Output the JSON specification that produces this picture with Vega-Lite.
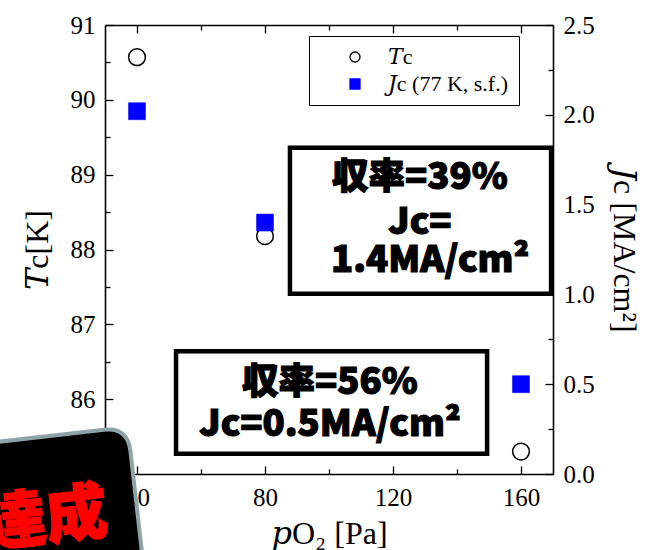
{
  "$schema": "https://vega.github.io/schema/vega-lite/v6.json",
  "autosize": "none",
  "width": 448,
  "height": 449,
  "padding": {"left": 105, "top": 25, "right": 105, "bottom": 76},
  "background": "white",
  "config": {
    "view": {"stroke": null},
    "axis": {
      "grid": false,
      "labelFont": "Liberation Serif",
      "labelFontSize": 25,
      "labelColor": "black",
      "titleFont": "Liberation Serif, DejaVu Serif",
      "titleFontSize": 32,
      "titleFontWeight": "normal",
      "titleColor": "black",
      "domainColor": "black",
      "domainWidth": 1.6,
      "tickColor": "black",
      "tickWidth": 1.3,
      "labelFlush": false,
      "labelOverlap": false
    },
    "legend": {
      "orient": "none",
      "legendX": 204,
      "legendY": 11,
      "strokeColor": "black",
      "fillColor": "white",
      "padding": 10,
      "labelFont": "Liberation Serif, DejaVu Serif",
      "labelFontSize": 22,
      "labelColor": "black",
      "symbolSize": 100,
      "symbolStrokeWidth": 1.3,
      "symbolOffset": 25,
      "labelOffset": 22,
      "rowPadding": 5
    }
  },
  "datasets": {
    "tc": [
      {"pO2": 40, "Tc": 90.57, "series": "Tc"},
      {"pO2": 80, "Tc": 88.18, "series": "Tc"},
      {"pO2": 160, "Tc": 85.3, "series": "Tc"}
    ],
    "jc": [
      {"pO2": 40, "Jc": 2.02, "series": "Jc"},
      {"pO2": 80, "Jc": 1.4, "series": "Jc"},
      {"pO2": 160, "Jc": 0.5, "series": "Jc"}
    ],
    "boxes": [
      {"left": 87.8, "right": 169.4, "top": 89.36, "bottom": 87.41},
      {"left": 52.2, "right": 149.4, "top": 86.64, "bottom": 85.27}
    ],
    "notes": [
      {"pO2": 128.4, "Tc": 88.95, "note": "収率=39%"},
      {"pO2": 128.4, "Tc": 88.35, "note": "Jc="},
      {"pO2": 131.6, "Tc": 87.85, "note": "1.4MA/cm²"},
      {"pO2": 100.3, "Tc": 86.22, "note": "収率=56%"},
      {"pO2": 100.3, "Tc": 85.65, "note": "Jc=0.5MA/cm²"}
    ],
    "badge": [{"pO2": -3.2, "Tc": 84.22}],
    "badgeText": [{"pO2": 11.6, "Tc": 84.38, "label": "達成"}]
  },
  "resolve": {"scale": {"x": "independent", "y": "independent"}},
  "layer": [
    {
      "data": {"name": "tc"},
      "mark": {"type": "point", "size": 280, "strokeWidth": 1.5, "opacity": 1},
      "encoding": {
        "x": {
          "field": "pO2", "type": "quantitative",
          "scale": {"domain": [30, 170], "nice": false, "zero": false},
          "axis": {"orient": "bottom", "values": [40, 80, 120, 160], "tickSize": -8, "labelPadding": 19, "titlePadding": 8, "title": "𝑝O₂ [Pa]", "titleFontSize": 32}
        },
        "y": {
          "field": "Tc", "type": "quantitative",
          "scale": {"domain": [85, 91], "nice": false, "zero": false},
          "axis": {"orient": "left", "values": [85, 86, 87, 88, 89, 90, 91], "format": "d", "tickSize": -8, "labelPadding": 18, "titlePadding": 16, "title": "𝑇c[K]"}
        },
        "shape": {"field": "series", "type": "nominal", "title": null, "scale": {"domain": ["Tc", "Jc"], "range": ["circle", "square"]}, "legend": {"labelExpr": "datum.value == 'Tc' ? '𝑇c' : '𝐽c (77 K, s.f.)'"}},
        "fill": {"field": "series", "type": "nominal", "title": null, "scale": {"domain": ["Tc", "Jc"], "range": ["transparent", "#0000ff"]}, "legend": {"labelExpr": "datum.value == 'Tc' ? '𝑇c' : '𝐽c (77 K, s.f.)'"}},
        "stroke": {"field": "series", "type": "nominal", "title": null, "scale": {"domain": ["Tc", "Jc"], "range": ["black", "#0000ff"]}, "legend": {"labelExpr": "datum.value == 'Tc' ? '𝑇c' : '𝐽c (77 K, s.f.)'"}}
      }
    },
    {
      "data": {"name": "jc"},
      "mark": {"type": "point", "size": 289, "strokeWidth": 0.5, "opacity": 1},
      "encoding": {
        "x": {
          "field": "pO2", "type": "quantitative",
          "scale": {"domain": [30, 170], "nice": false, "zero": false},
          "axis": {"orient": "top", "values": [40, 80, 120, 160], "tickSize": -8, "labels": false, "title": null}
        },
        "y": {
          "field": "Jc", "type": "quantitative",
          "scale": {"domain": [0, 2.5], "nice": false, "zero": false},
          "axis": {"orient": "right", "values": [0, 0.5, 1, 1.5, 2, 2.5], "format": ".1f", "tickSize": -8, "labelPadding": 18, "titlePadding": 12, "title": "𝐽c [MA/cm²]"}
        },
        "shape": {"field": "series", "type": "nominal", "title": null, "scale": {"domain": ["Tc", "Jc"], "range": ["circle", "square"]}},
        "fill": {"field": "series", "type": "nominal", "title": null, "scale": {"domain": ["Tc", "Jc"], "range": ["transparent", "#0000ff"]}},
        "stroke": {"field": "series", "type": "nominal", "title": null, "scale": {"domain": ["Tc", "Jc"], "range": ["black", "#0000ff"]}}
      }
    },
    {
      "data": {"name": "tc"},
      "mark": {"type": "point", "opacity": 0},
      "encoding": {
        "x": {
          "field": "pO2", "type": "quantitative",
          "scale": {"domain": [30, 170], "nice": false, "zero": false},
          "axis": {"orient": "bottom", "values": [60, 100, 140], "tickSize": -5, "labels": false, "domain": false, "title": null}
        },
        "y": {
          "field": "Tc", "type": "quantitative",
          "scale": {"domain": [85, 91], "nice": false, "zero": false},
          "axis": {"orient": "left", "values": [85.5, 86.5, 87.5, 88.5, 89.5, 90.5], "tickSize": -5, "labels": false, "domain": false, "title": null}
        }
      }
    },
    {
      "data": {"name": "jc"},
      "mark": {"type": "point", "opacity": 0},
      "encoding": {
        "x": {
          "field": "pO2", "type": "quantitative",
          "scale": {"domain": [30, 170], "nice": false, "zero": false},
          "axis": {"orient": "top", "values": [60, 100, 140], "tickSize": -5, "labels": false, "domain": false, "title": null}
        },
        "y": {
          "field": "Jc", "type": "quantitative",
          "scale": {"domain": [0, 2.5], "nice": false, "zero": false},
          "axis": {"orient": "right", "values": [0.25, 0.75, 1.25, 1.75, 2.25], "tickSize": -5, "labels": false, "domain": false, "title": null}
        }
      }
    },
    {
      "layer": [
        {
          "data": {"name": "boxes"},
          "mark": {"type": "rect", "fill": "white", "stroke": "black", "strokeWidth": 4.5},
          "encoding": {
            "x": {"field": "left", "type": "quantitative", "scale": {"domain": [30, 170], "nice": false, "zero": false}, "axis": null},
            "x2": {"field": "right"},
            "y": {"field": "top", "type": "quantitative", "scale": {"domain": [85, 91], "nice": false, "zero": false}, "axis": null},
            "y2": {"field": "bottom"}
          }
        },
        {
          "data": {"name": "notes"},
          "mark": {"type": "text", "font": "Noto Sans CJK JP", "fontSize": 36.5, "fontWeight": 900, "fill": "black", "stroke": "black", "strokeWidth": 1.2, "align": "center", "baseline": "middle"},
          "encoding": {
            "x": {"field": "pO2", "type": "quantitative", "scale": {"domain": [30, 170], "nice": false, "zero": false}, "axis": null},
            "y": {"field": "Tc", "type": "quantitative", "scale": {"domain": [85, 91], "nice": false, "zero": false}, "axis": null},
            "text": {"field": "note"}
          }
        },
        {
          "data": {"name": "badge"},
          "mark": {
            "type": "point",
            "shape": "M-0.83,-0.643 L0.83,-0.643 Q1,-0.643 1,-0.473 L1,0.473 Q1,0.643 0.83,0.643 L-0.83,0.643 Q-1,0.643 -1,0.473 L-1,-0.473 Q-1,-0.643 -0.83,-0.643 Z",
            "size": 78400,
            "angle": 353.5,
            "filled": true,
            "fill": "black",
            "stroke": "#8ea3a8",
            "strokeWidth": 4,
            "opacity": 1
          },
          "encoding": {
            "x": {"field": "pO2", "type": "quantitative", "scale": {"domain": [30, 170], "nice": false, "zero": false}, "axis": null},
            "y": {"field": "Tc", "type": "quantitative", "scale": {"domain": [85, 91], "nice": false, "zero": false}, "axis": null}
          }
        },
        {
          "data": {"name": "badgeText"},
          "mark": {"type": "text", "font": "Noto Sans CJK JP", "fontSize": 62, "fontWeight": 900, "fill": "#ff0000", "stroke": "#ff0000", "strokeWidth": 1.5, "align": "center", "baseline": "middle", "angle": 353.5},
          "encoding": {
            "x": {"field": "pO2", "type": "quantitative", "scale": {"domain": [30, 170], "nice": false, "zero": false}, "axis": null},
            "y": {"field": "Tc", "type": "quantitative", "scale": {"domain": [85, 91], "nice": false, "zero": false}, "axis": null},
            "text": {"field": "label"}
          }
        }
      ]
    }
  ]
}
